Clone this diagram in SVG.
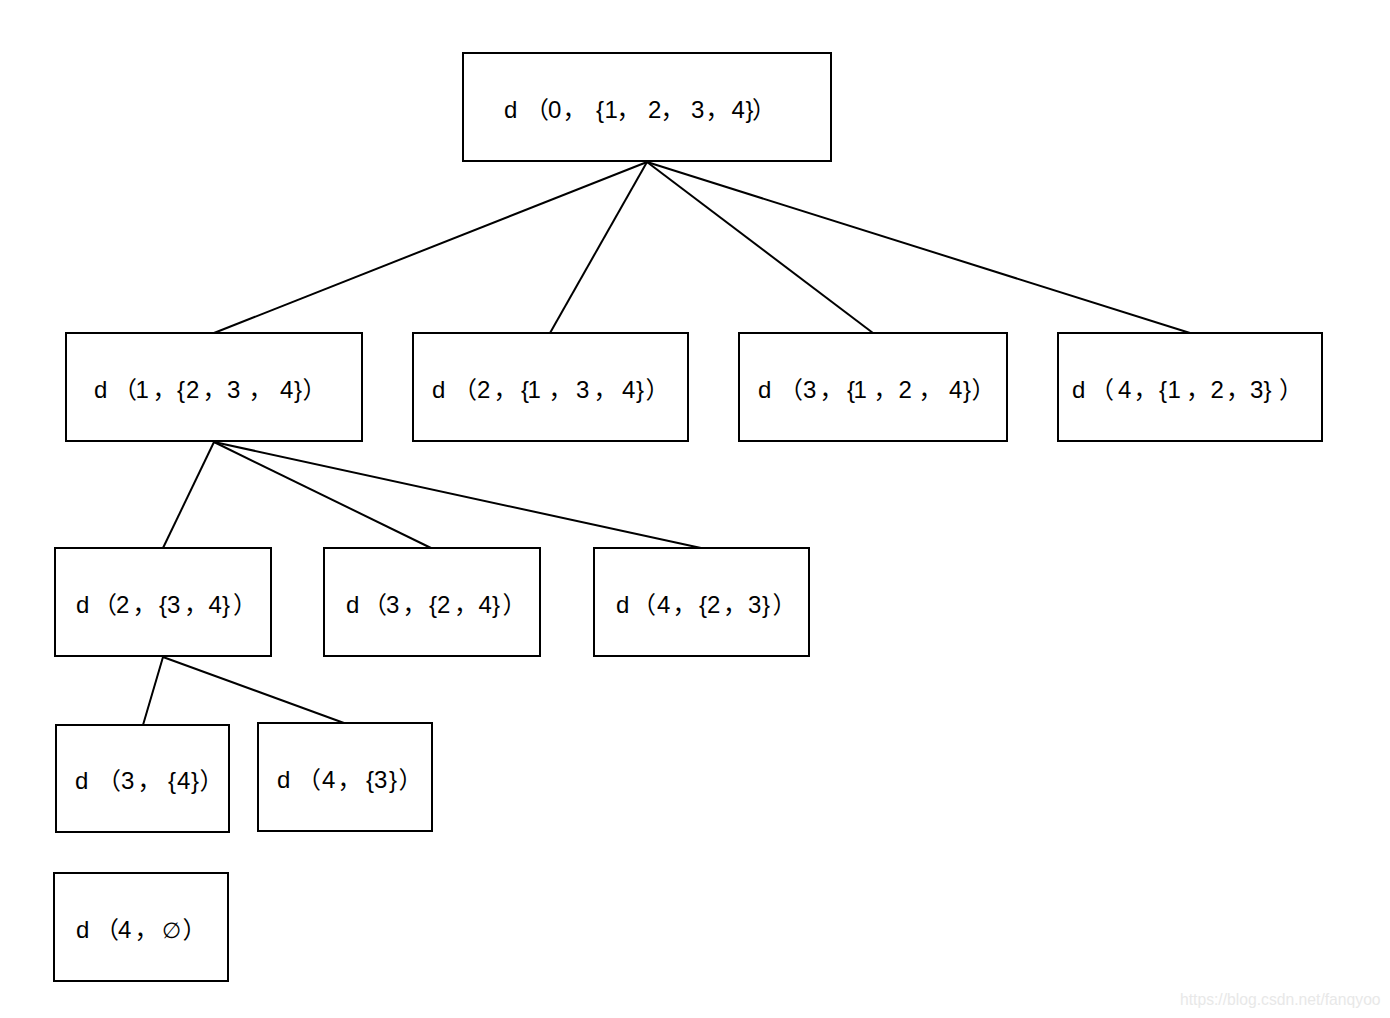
<svg xmlns="http://www.w3.org/2000/svg" width="1390" height="1018" viewBox="0 0 1390 1018">
<style>
.box{fill:#fff;stroke:#000;stroke-width:2}
.lbl{font-family:"Liberation Sans",Arial,sans-serif;font-size:24px;fill:#000}
.cj{font-family:"Noto Sans CJK SC","Noto Sans CJK JP",sans-serif}
.es{font-size:22px}
.edge{stroke:#000;stroke-width:2;fill:none}
.wm{font-family:"Liberation Sans",sans-serif;font-size:15.7px;fill:#e8e8e8}
</style>
<rect width="1390" height="1018" fill="#fff"/>
<g id="connectors">
<line class="edge" x1="647" y1="162" x2="214" y2="333"/>
<line class="edge" x1="647" y1="162" x2="550" y2="333"/>
<line class="edge" x1="647" y1="162" x2="873" y2="333"/>
<line class="edge" x1="647" y1="162" x2="1190" y2="333"/>
<line class="edge" x1="214" y1="442" x2="163" y2="548"/>
<line class="edge" x1="214" y1="442" x2="431" y2="548"/>
<line class="edge" x1="214" y1="442" x2="701" y2="548"/>
<line class="edge" x1="163" y1="657" x2="143" y2="725"/>
<line class="edge" x1="163" y1="657" x2="344" y2="723"/>
</g>
<g id="n0"><rect class="box" x="463" y="53" width="368" height="108"/>
<text class="lbl" y="118"><tspan x="504">d</tspan><tspan class="cj" x="525">（</tspan><tspan x="548">0</tspan><tspan class="cj" x="562.5">，</tspan><tspan x="596">{</tspan><tspan x="604.5">1</tspan><tspan class="cj" x="616.5">，</tspan><tspan x="648">2</tspan><tspan class="cj" x="660.5">，</tspan><tspan x="691">3</tspan><tspan class="cj" x="705.5">，</tspan><tspan x="731.5">4</tspan><tspan x="745.5">}</tspan><tspan class="cj" x="752">）</tspan></text></g>
<g id="n1"><rect class="box" x="66" y="333" width="296" height="108"/>
<text class="lbl" y="398"><tspan x="94">d</tspan><tspan class="cj" x="113">（</tspan><tspan x="135.5">1</tspan><tspan class="cj" x="152.5">，</tspan><tspan x="177">{</tspan><tspan x="186">2</tspan><tspan class="cj" x="202.5">，</tspan><tspan x="227">3</tspan><tspan class="cj" x="248.5">，</tspan><tspan x="280">4</tspan><tspan x="294">}</tspan><tspan class="cj" x="302.5">）</tspan></text></g>
<g id="n2"><rect class="box" x="413" y="333" width="275" height="108"/>
<text class="lbl" y="398"><tspan x="432">d</tspan><tspan class="cj" x="453">（</tspan><tspan x="477">2</tspan><tspan class="cj" x="493.5">，</tspan><tspan x="521">{</tspan><tspan x="527.5">1</tspan><tspan class="cj" x="548.5">，</tspan><tspan x="576">3</tspan><tspan class="cj" x="593.5">，</tspan><tspan x="622">4</tspan><tspan x="636">}</tspan><tspan class="cj" x="645.5">）</tspan></text></g>
<g id="n3"><rect class="box" x="739" y="333" width="268" height="108"/>
<text class="lbl" y="398"><tspan x="758">d</tspan><tspan class="cj" x="779">（</tspan><tspan x="803">3</tspan><tspan class="cj" x="819.5">，</tspan><tspan x="847">{</tspan><tspan x="853.5">1</tspan><tspan class="cj" x="873.5">，</tspan><tspan x="898.5">2</tspan><tspan class="cj" x="918.5">，</tspan><tspan x="949">4</tspan><tspan x="963">}</tspan><tspan class="cj" x="971.5">）</tspan></text></g>
<g id="n4"><rect class="box" x="1058" y="333" width="264" height="108"/>
<text class="lbl" y="398"><tspan x="1072">d</tspan><tspan class="cj" x="1090">（</tspan><tspan x="1118">4</tspan><tspan class="cj" x="1133.5">，</tspan><tspan x="1159">{</tspan><tspan x="1167.5">1</tspan><tspan class="cj" x="1186">，</tspan><tspan x="1210.5">2</tspan><tspan class="cj" x="1226">，</tspan><tspan x="1250">3</tspan><tspan x="1263.5">}</tspan><tspan class="cj" x="1279">）</tspan></text></g>
<g id="n5"><rect class="box" x="55" y="548" width="216" height="108"/>
<text class="lbl" y="613"><tspan x="76">d</tspan><tspan class="cj" x="93">（</tspan><tspan x="116">2</tspan><tspan class="cj" x="132.5">，</tspan><tspan x="159">{</tspan><tspan x="167">3</tspan><tspan class="cj" x="184">，</tspan><tspan x="208.5">4</tspan><tspan x="222">}</tspan><tspan class="cj" x="233">）</tspan></text></g>
<g id="n6"><rect class="box" x="324" y="548" width="216" height="108"/>
<text class="lbl" y="613"><tspan x="346">d</tspan><tspan class="cj" x="363">（</tspan><tspan x="386">3</tspan><tspan class="cj" x="402.5">，</tspan><tspan x="429">{</tspan><tspan x="437">2</tspan><tspan class="cj" x="454">，</tspan><tspan x="478.5">4</tspan><tspan x="492">}</tspan><tspan class="cj" x="502.5">）</tspan></text></g>
<g id="n7"><rect class="box" x="594" y="548" width="215" height="108"/>
<text class="lbl" y="613"><tspan x="616">d</tspan><tspan class="cj" x="632">（</tspan><tspan x="657">4</tspan><tspan class="cj" x="672.5">，</tspan><tspan x="699">{</tspan><tspan x="707">2</tspan><tspan class="cj" x="723">，</tspan><tspan x="748">3</tspan><tspan x="762">}</tspan><tspan class="cj" x="772.5">）</tspan></text></g>
<g id="n8"><rect class="box" x="56" y="725" width="173" height="107"/>
<text class="lbl" y="789"><tspan x="75">d</tspan><tspan class="cj" x="97">（</tspan><tspan x="121">3</tspan><tspan class="cj" x="137.5">，</tspan><tspan x="168">{</tspan><tspan x="177">4</tspan><tspan x="191">}</tspan><tspan class="cj" x="199.5">）</tspan></text></g>
<g id="n9"><rect class="box" x="258" y="723" width="174" height="108"/>
<text class="lbl" y="788"><tspan x="277">d</tspan><tspan class="cj" x="297">（</tspan><tspan x="322">4</tspan><tspan class="cj" x="337.5">，</tspan><tspan x="366">{</tspan><tspan x="374">3</tspan><tspan x="389">}</tspan><tspan class="cj" x="398.5">）</tspan></text></g>
<g id="n10"><rect class="box" x="54" y="873" width="174" height="108"/>
<text class="lbl" y="938"><tspan x="76">d</tspan><tspan class="cj" x="95">（</tspan><tspan x="118">4</tspan><tspan class="cj" x="134.5">，</tspan><tspan class="es" x="162">∅</tspan><tspan class="cj" x="182.5">）</tspan></text></g>
<text class="wm" x="1180" y="1005">https://blog.csdn.net/fanqyoo</text>
</svg>
